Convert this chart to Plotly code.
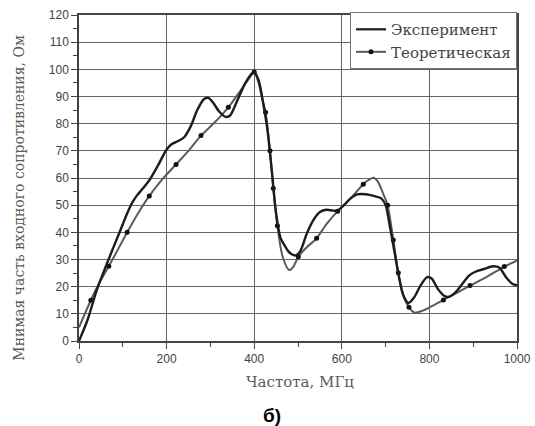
import plotly.graph_objects as go

# Experimental reactance curve (MHz, Ohm)
exp_freq = [0, 20, 40, 60, 80, 100, 110, 120, 132, 145, 162, 180, 200, 212, 225, 240,
            255, 270, 285, 295, 305, 320, 335, 345, 360, 380, 395, 400, 410, 420, 430,
            440, 450, 460, 470, 478, 485, 495, 505, 520, 535, 550, 565, 580, 590, 605,
            620, 635, 655, 675, 690, 700, 710, 720, 730, 740, 752, 765, 780, 795, 805,
            820, 835, 845, 860, 875, 890, 905, 925, 945, 960, 975, 990, 1000]
exp_val = [0, 8, 18.5, 27, 35, 43, 47, 50.5, 53.5, 56, 59.5, 64.5, 70.5, 72.5, 73.5, 75,
           79, 85, 89, 89.5, 88, 84.5, 82.5, 83, 88, 95, 98.5, 99, 96, 88, 78,
           63, 47, 38, 35, 33, 32, 31.5, 33, 39.5, 44.5, 47.5, 48.3, 48, 48, 50,
           52.5, 54, 54, 53.3, 52.5, 50, 42, 33, 24, 17, 14, 16, 20.5, 23.5, 23,
           19, 16.5, 16.3, 18, 21, 24, 25.5, 26.5, 27.5, 27, 23.5, 21, 20.5]

# Theoretical curve
th_freq = [0, 27, 45, 68, 90, 110, 135, 160.5, 190, 221.5, 250, 278.5, 310, 341, 370,
           390, 400, 410, 420, 426, 436, 443.5, 453, 465, 480, 490, 500.7, 520, 542.5,
           565, 590.6, 620, 649, 663, 673, 683, 695, 704.6, 717.6, 729, 740, 753.4,
           767, 785, 805, 832, 860, 892.7, 930, 971, 1000]
th_val = [5, 15, 21, 27.5, 34, 40, 47, 53.4, 59.5, 65, 70, 75.6, 80.5, 86, 92.5,
          97, 99, 95, 88, 84.2, 70, 56.2, 42.4, 31, 26.1, 27.5, 31, 34.5, 37.8,
          43, 47.8, 52.5, 57.7, 59.5, 60.1, 58.5, 54, 50, 37.2, 25.1, 17, 12.4,
          10.4, 11.2, 12.8, 15.1, 17.5, 20.4, 23.5, 27.4, 29.6]

# Computed points of the theoretical curve (markers)
dot_freq = [27, 68, 110, 160.5, 221.5, 278.5, 341, 400, 426, 436, 443.5, 453, 500.7,
            542.5, 590.6, 649, 704.6, 717.6, 729, 753.4, 832, 892.7, 971]
dot_val = [15, 27.5, 40, 53.4, 65, 75.6, 86, 99, 84.2, 70, 56.2, 42.4, 31,
           37.8, 47.8, 57.7, 50, 37.2, 25.1, 12.4, 15.1, 20.4, 27.4]

x_ticks = [0, 200, 400, 600, 800, 1000]
y_ticks = list(range(0, 121, 10))

names = ["Эксперимент", "Теоретическая"]
x_title = "Частота, МГц"
y_title = "Мнимая часть входного сопротивления, Ом"
caption = "б)"

EXP_COLOR = "#1c1c1c"
TH_COLOR = "#5a5a5a"
DOT_COLOR = "#111111"
GRID = "#666666"
SERIF = "DejaVu Serif"
SANS = "Liberation Sans"

fig = go.Figure()

fig.add_trace(go.Scatter(
    x=th_freq, y=th_val, mode="lines",
    line=dict(color=TH_COLOR, width=2, shape="spline", smoothing=0.8),
    showlegend=False, hoverinfo="skip"))
fig.add_trace(go.Scatter(
    x=dot_freq, y=dot_val, mode="markers",
    marker=dict(color=DOT_COLOR, size=5),
    showlegend=False))
fig.add_trace(go.Scatter(
    x=exp_freq, y=exp_val, mode="lines",
    line=dict(color=EXP_COLOR, width=2.4, shape="spline", smoothing=0.8),
    showlegend=False))

# Legend entries
fig.add_trace(go.Scatter(
    x=[None], y=[None], mode="lines", name=names[0],
    line=dict(color=EXP_COLOR, width=2.2)))
fig.add_trace(go.Scatter(
    x=[None], y=[None], mode="lines+markers", name=names[1],
    line=dict(color=TH_COLOR, width=2), marker=dict(color=DOT_COLOR, size=5)))

axis_common = dict(
    showgrid=True, gridcolor=GRID, gridwidth=1.3,
    showline=True, linecolor="#444444", linewidth=1.5, mirror=True,
    ticks="outside", ticklen=6, tickwidth=1.3, tickcolor="#444444",
    tickfont=dict(family=SANS, size=12, color="#444444"),
    zeroline=False,
)

fig.update_xaxes(
    range=[0, 1000], tickvals=x_ticks,
    minor=dict(dtick=100, ticks="outside", ticklen=4, tickcolor="#444444", showgrid=False),
    **axis_common)
fig.update_yaxes(
    range=[0, 120], tickvals=y_ticks,
    minor=dict(dtick=5, ticks="outside", ticklen=4, tickcolor="#444444", showgrid=False),
    **axis_common)

fig.add_annotation(
    text=y_title, xref="paper", yref="paper", x=-0.139, y=0.44,
    textangle=-90, showarrow=False, xanchor="center", yanchor="middle",
    font=dict(family=SERIF, size=14, color="#5a5a5a"))
fig.add_annotation(
    text=x_title, xref="paper", yref="paper", x=0.505, y=-0.125,
    showarrow=False, xanchor="center", yanchor="middle",
    font=dict(family=SERIF, size=15, color="#5a5a5a"))
fig.add_annotation(
    text="<b>" + caption + "</b>", xref="paper", yref="paper", x=0.44, y=-0.227,
    showarrow=False, xanchor="center", yanchor="middle",
    font=dict(family=SANS, size=19, color="#000000"))

fig.update_layout(
    width=535, height=426,
    margin=dict(l=79, r=18, t=15, b=85, autoexpand=False),
    paper_bgcolor="white", plot_bgcolor="white",
    legend=dict(
        x=1, y=1.009, xanchor="right", yanchor="top",
        bgcolor="white", bordercolor="#777777", borderwidth=1,
        font=dict(family=SERIF, size=15, color="#444444"),
        tracegroupgap=0, itemwidth=30),
)

fig.write_html("out.html")
